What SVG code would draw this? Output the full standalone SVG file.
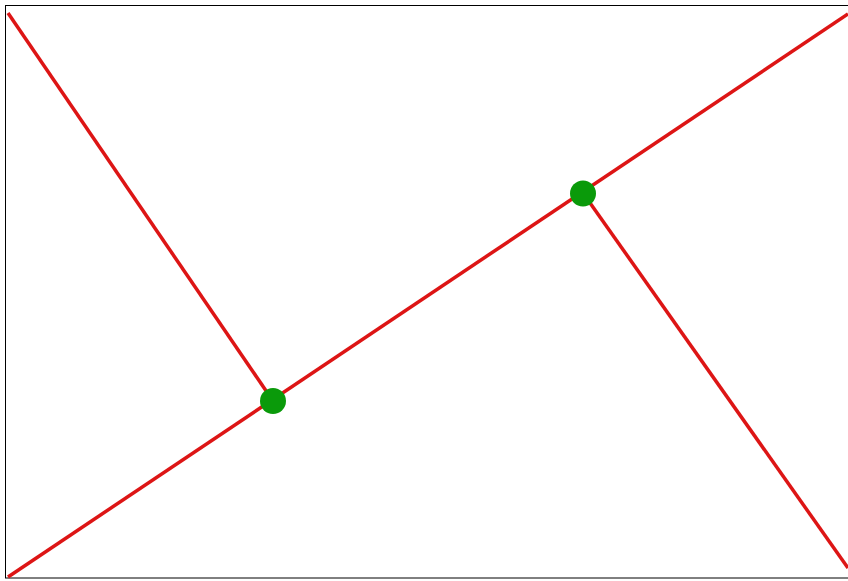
<svg xmlns="http://www.w3.org/2000/svg" width="848" height="581" viewBox="0 0 848 581">
<style>
.edge{stroke:#dd1515;stroke-width:3.5;fill:none;stroke-linecap:butt}
.node{fill:#0a9a0a}
</style>
<rect x="0" y="0" width="848" height="581" fill="#ffffff"/>
<rect x="5.5" y="5.5" width="845" height="572.5" fill="none" stroke="#000" stroke-width="1"/>
<g id="connectors">
<line class="edge" x1="8" y1="13" x2="273" y2="401"/>
<line class="edge" x1="8" y1="577" x2="848" y2="14"/>
<line class="edge" x1="583" y1="193" x2="848" y2="568"/>
</g>
<g id="node1"><circle class="node" cx="273" cy="401" r="13"/></g>
<g id="node2"><circle class="node" cx="583" cy="193.5" r="13"/></g>
</svg>
